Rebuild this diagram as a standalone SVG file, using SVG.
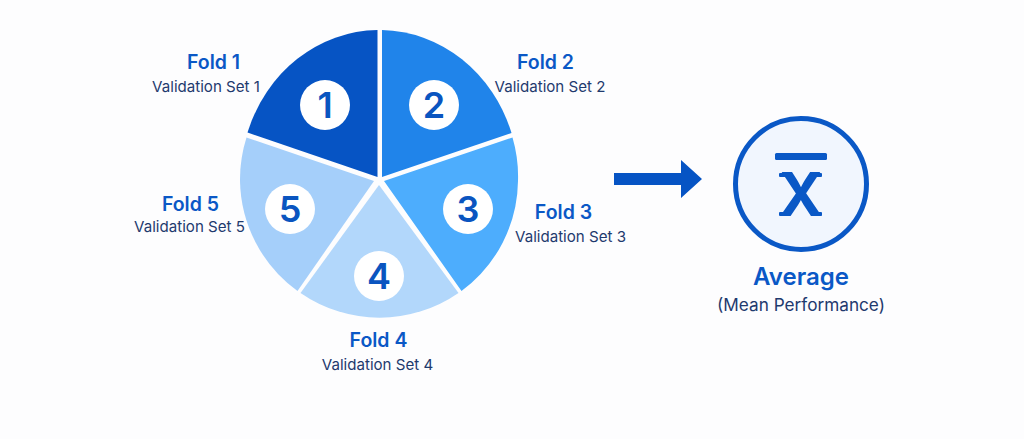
<svg xmlns="http://www.w3.org/2000/svg" width="1024" height="439" viewBox="0 0 1024 439">
<style>
text{font-family:"Inter","Liberation Sans",sans-serif;text-anchor:middle}
.t{font-size:19.500px;font-weight:600;fill:#0a58c6}
.s{font-size:15.100px;font-weight:400;fill:#1f3a6e}
.n{font-size:36px;font-weight:600;fill:#0a55c0}
.b{fill:#fff}
.x{fill:#0a58c6}
</style>
<rect width="1024" height="439" fill="#fdfdfe"/>
<g id="fold1"><path d="M377.5 177V30A139 150 0 0 0 247.500 132.500Z" fill="#0654c4"/><circle class="b" cx="325" cy="105" r="25"/><text class="n" x="325" y="118">1</text><text class="t" x="213.500" y="69">Fold 1</text><text class="s" x="206" y="92">Validation Set 1</text></g>
<g id="fold2"><path d="M382 177V30A139 150 0 0 1 511.500 133Z" fill="#2084ea"/><circle class="b" cx="434" cy="105" r="25"/><text class="n" x="434" y="118">2</text><text class="t" x="545.500" y="69">Fold 2</text><text class="s" x="550" y="92">Validation Set 2</text></g>
<g id="fold3"><path d="M384 181L512.500 137.500A139 139 0 0 1 518 181A139 139 0 0 1 461.500 291Z" fill="#4dadfd"/><circle class="b" cx="468" cy="209" r="25"/><text class="n" x="468" y="222">3</text><text class="t" x="563.500" y="219">Fold 3</text><text class="s" x="570.500" y="242">Validation Set 3</text></g>
<g id="fold4"><path d="M379 185L458.500 293A139 139 0 0 1 300.500 293Z" fill="#b2d7fb"/><circle class="b" cx="379" cy="276" r="25"/><text class="n" x="379" y="289">4</text><text class="t" x="378.500" y="347">Fold 4</text><text class="s" x="377.500" y="370">Validation Set 4</text></g>
<g id="fold5"><path d="M374 181L246.500 137.500A139 139 0 0 0 240 181A139 139 0 0 0 297.500 291Z" fill="#a5cffa"/><circle class="b" cx="290" cy="209" r="25"/><text class="n" x="290" y="222">5</text><text class="t" x="190.500" y="211">Fold 5</text><text class="s" x="189.500" y="232">Validation Set 5</text></g>
<g id="connectors"><path d="M614 173H681V160L702 179L681 198V185H614Z" fill="#0654c4"/></g>
<g id="average"><circle cx="801" cy="184" r="65.500" fill="#f1f6fe" stroke="#0a58c6" stroke-width="5"/><rect class="x" x="775" y="153" width="52" height="7" rx="1.500"/><text class="x" x="801" y="216" style="font-size:60px;font-weight:700">X</text><rect class="x" x="779" y="173" width="12" height="4" rx="1"/><rect class="x" x="811" y="173" width="11" height="4" rx="1"/><rect class="x" x="779" y="212" width="11" height="4" rx="1"/><rect class="x" x="811" y="212" width="11" height="4" rx="1"/><text x="801" y="285" style="font-size:24px;font-weight:600;fill:#0a58c6">Average</text><text x="801" y="311" style="font-size:17.200px;fill:#1f3a6e">(Mean Performance)</text></g>
</svg>
